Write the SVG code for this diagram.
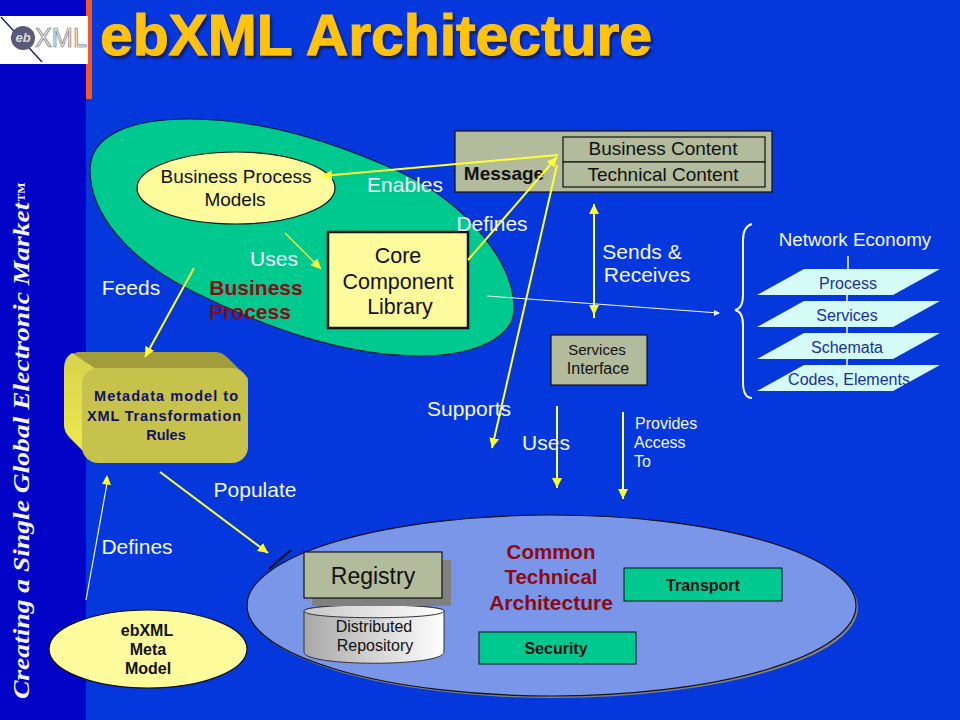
<svg xmlns="http://www.w3.org/2000/svg" width="960" height="720" viewBox="0 0 960 720">
<style>
text{font-family:"Liberation Sans",Arial,sans-serif;text-anchor:middle}
.w{fill:#f4f6ff;font-size:21px}
.k{fill:#111;font-size:19px}
.kb{fill:#111;font-size:16px;font-weight:bold}
.nb{fill:#12125e;font-size:14.5px;font-weight:bold}
.r{fill:#8b0a14;font-size:21px;font-weight:bold}
.lay{fill:#1b2fa0;font-size:16px}
.y{stroke:#ffff33;stroke-width:2;fill:none;marker-end:url(#ah)}
.o{stroke:#111;stroke-width:1.2}
.sage{fill:#b2bb9b}
.tl{fill:#d4fbf6}
.sb{fill:#f4f6ff;font-family:"Liberation Serif",serif;font-style:italic;font-weight:bold;font-size:24px;text-anchor:start}
</style>
<defs>
<marker id="ah" markerUnits="userSpaceOnUse" markerWidth="12" markerHeight="12" refX="10" refY="5" orient="auto"><path d="M0,0L10,5L0,10Z" fill="#ffff33"/></marker>
<linearGradient id="cyl" x1="0" x2="1" y1="0" y2="0"><stop offset="0" stop-color="#a8a8a8"/><stop offset="1" stop-color="#ffffff"/></linearGradient>
<linearGradient id="cyt" x1="0" x2="1" y1="0" y2="0"><stop offset="0" stop-color="#c8c8c8"/><stop offset="1" stop-color="#ffffff"/></linearGradient>
<linearGradient id="lf" x1="0" x2="0" y1="0" y2="1"><stop offset="0" stop-color="#d8d24c"/><stop offset="1" stop-color="#f0ea50"/></linearGradient>
<filter id="ts" x="-5%" y="-20%" width="110%" height="140%"><feDropShadow dx="2" dy="3" stdDeviation="0.8" flood-color="#0a1a60"/></filter>
</defs>
<rect width="960" height="720" fill="#0538dc"/>
<rect width="86" height="720" fill="#0303c8"/>
<rect x="86" y="0" width="6" height="99" fill="#f0582c"/>
<g id="sidebar"><text class="sb" transform="translate(29,699) rotate(-90)" textLength="516" lengthAdjust="spacingAndGlyphs">Creating a Single Global Electronic Market<tspan style="font-size:17px">™</tspan></text></g>
<g id="logo">
<rect x="0" y="16" width="88" height="48" fill="#fff"/>
<path d="M1,17L42,62" stroke="#24245a" stroke-width="1.5"/>
<circle cx="23" cy="38" r="12" fill="#5a5a78"/>
<text x="23" y="42" style="font-size:13px;font-style:italic;font-weight:bold;fill:#ddd">eb</text>
<text x="61" y="47" style="font-size:27px;fill:#e8e8e8;stroke:#777;stroke-width:.7" textLength="52" lengthAdjust="spacingAndGlyphs">XML</text>
</g>
<g id="title">
<text x="376" y="55" filter="url(#ts)" style="font-size:58px;font-weight:bold;fill:#ffc20e;stroke:#ffc20e;stroke-width:1" textLength="552" lengthAdjust="spacingAndGlyphs">ebXML Architecture</text>
</g>
<g id="business-process">
<path d="M90,170C90,135 130,119 190,119C260,119 330,140 400,172C470,205 515,265 514,310C513,340 470,356 420,356C340,356 260,325 190,290C130,260 90,215 90,170Z" fill="#00c98f" stroke="#10203a" stroke-width="1.2"/>
<text class="r" x="256" y="295">Business</text>
<text class="r" x="250" y="319">Process</text>
</g>
<g id="bp-models">
<ellipse cx="236" cy="188" rx="99" ry="36" fill="#fdfb9c" stroke="#111" stroke-width="1.2"/>
<text class="k" x="236" y="183">Business Process</text>
<text class="k" x="235" y="206">Models</text>
</g>
<g id="core-component">
<rect x="328" y="232" width="140" height="96" fill="#fdfb9c" stroke="#111" stroke-width="2.5"/>
<text class="k" x="398" y="263" style="font-size:21.5px">Core</text>
<text class="k" x="398" y="289" style="font-size:21.5px">Component</text>
<text class="k" x="400" y="314" style="font-size:21.5px">Library</text>
</g>
<g id="message">
<rect x="455" y="131" width="317" height="61" class="sage o"/>
<text class="kb" x="504" y="180" style="font-size:19px">Message</text>
<rect x="563" y="137" width="202" height="25" class="sage o"/>
<rect x="563" y="162" width="202" height="25" class="sage o"/>
<text class="k" x="663" y="155">Business Content</text>
<text class="k" x="663" y="181">Technical Content</text>
</g>
<g id="services-interface">
<rect x="551" y="335" width="96" height="50" class="sage o"/>
<text class="k" x="597" y="355" style="font-size:15px">Services</text>
<text class="k" x="598" y="374" style="font-size:16px">Interface</text>
</g>
<g id="network-economy">
<text class="w" x="855" y="246" style="font-size:18.8px">Network Economy</text>
<path d="M848,256V270M847,295V302M847,327V334M847,359V366" stroke="#f4f6ff" stroke-width="1.5"/>
<path d="M752,224C745,226 743,232 743,240V295C743,305 740,309 735,310C740,311 743,316 743,325V382C743,392 746,398 752,398" fill="none" stroke="#f4f6ff" stroke-width="2"/>
<g id="layer-process"><path d="M804,269H940L893,295H757Z" class="tl"/><text class="lay" x="848" y="289">Process</text></g>
<g id="layer-services"><path d="M804,301H940L893,327H757Z" class="tl"/><text class="lay" x="847" y="321">Services</text></g>
<g id="layer-schemata"><path d="M804,333H940L893,359H757Z" class="tl"/><text class="lay" x="847" y="353">Schemata</text></g>
<g id="layer-codes"><path d="M804,365H940L893,391H757Z" class="tl"/><text class="lay" x="849" y="385">Codes, Elements</text></g>
</g>
<g id="metadata-model">
<path d="M78,352H216Q222,352 228,358L248,378V400H100L72,354Z" fill="#a39c3b"/>
<path d="M72,353Q64,358 64,368V425Q64,432 70,438L92,460L100,400V372L96,369Z" fill="url(#lf)"/>
<rect x="82" y="368" width="166" height="95" rx="16" fill="#c6c24c"/>
<text class="nb" x="166" y="401" textLength="144">Metadata model  to</text>
<text class="nb" x="164" y="421" textLength="154">XML Transformation</text>
<text class="nb" x="166" y="440">Rules</text>
</g>
<g id="meta-model">
<ellipse cx="148" cy="649" rx="99" ry="39" fill="#fdfb9c" stroke="#111" stroke-width="1.2"/>
<text class="kb" x="147" y="636">ebXML</text>
<text class="kb" x="148" y="655">Meta</text>
<text class="kb" x="148" y="674">Model</text>
</g>
<g id="common-technical">
<ellipse cx="553.5" cy="607.5" rx="304.5" ry="90.5" fill="#808080"/>
<ellipse cx="551.5" cy="605.5" rx="304.5" ry="90.5" fill="#7a96e8" stroke="#111" stroke-width="1.2"/>
<text class="r" x="551" y="559" style="font-size:20.5px">Common</text>
<text class="r" x="551" y="584" style="font-size:20.5px">Technical</text>
<text class="r" x="551" y="610">Architecture</text>
</g>
<g id="distributed-repository">
<path d="M304,611C304,603 444,603 444,611V652C444,667 304,667 304,652Z" fill="url(#cyl)" stroke="#333" stroke-width="1"/>
<path d="M304,611C304,603 444,603 444,611C444,620 304,620 304,611Z" fill="url(#cyt)" stroke="#333" stroke-width="1"/>
<text class="k" x="374" y="632" style="font-size:16px">Distributed</text>
<text class="k" x="375" y="651" style="font-size:16px">Repository</text>
</g>
<g id="registry">
<rect x="312" y="560" width="139" height="46" fill="#808080"/>
<rect x="304" y="552" width="138" height="46" fill="#b2bb9b" stroke="#111" stroke-width="1.2"/>
<text class="k" x="373" y="584" style="font-size:23px">Registry</text>
</g>
<g id="transport"><rect x="624" y="568" width="158" height="33" fill="#00c98f" stroke="#111" stroke-width="1"/><text class="kb" x="703" y="591">Transport</text></g>
<g id="security"><rect x="479" y="632" width="157" height="32" fill="#00c98f" stroke="#111" stroke-width="1"/><text class="kb" x="556" y="654">Security</text></g>
<g id="connectors">
<path d="M558,155L322,176" class="y"/>
<path d="M285,233L321,269" class="y" style="stroke-width:1.2"/>
<path d="M468,260L557,157" class="y"/>
<path d="M557,165L492,448" class="y"/>
<path d="M594,318V204" class="y"/>
<path d="M594,205V315" class="y"/>
<path d="M487,296L719,313" stroke="#f4f6ff" stroke-width="1" fill="none"/>
<path d="M714,310L720,313L714,316Z" fill="#f4f6ff"/>
<path d="M194,268L145,357" class="y"/>
<path d="M557,406V488" class="y"/>
<path d="M623,412V499" class="y"/>
<path d="M160,472L268,553" class="y"/>
<path d="M86,600L108,478" stroke="#f0f0d0" stroke-width="1.2" fill="none"/>
<path d="M102,484L107,475L111,485Z" fill="#ffff33"/>
<path d="M269,569L291,550" stroke="#111" stroke-width="2" fill="none"/>
</g>
<g id="labels">
<text class="w" x="405" y="192">Enables</text>
<text class="w" x="492" y="231">Defines</text>
<text class="w" x="274" y="266">Uses</text>
<text class="w" x="131" y="295">Feeds</text>
<text class="w" x="642" y="259">Sends &amp;</text>
<text class="w" x="647" y="282">Receives</text>
<text class="w" x="469" y="416">Supports</text>
<text class="w" x="546" y="450">Uses</text>
<text class="w" x="635" y="429" style="font-size:16px;text-anchor:start">Provides</text>
<text class="w" x="634" y="448" style="font-size:16px;text-anchor:start">Access</text>
<text class="w" x="634" y="467" style="font-size:16px;text-anchor:start">To</text>
<text class="w" x="255" y="497">Populate</text>
<text class="w" x="137" y="554">Defines</text>
</g>
</svg>
